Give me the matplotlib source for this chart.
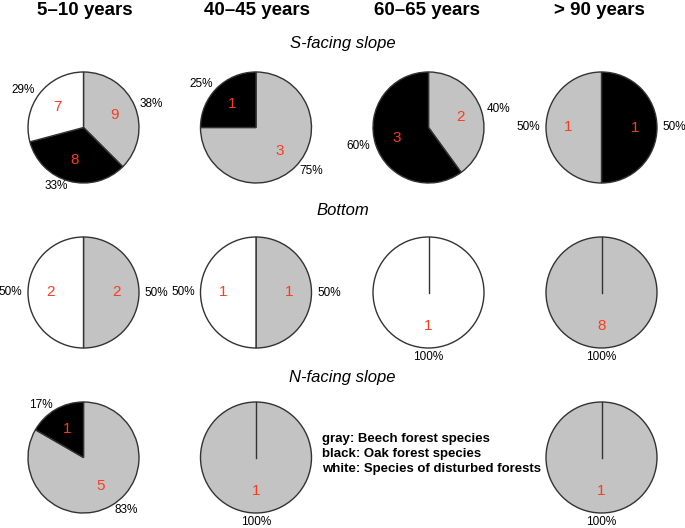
"""
Pie charts of species groups by forest age and slope position.
Saves out.png (685x528 px).
"""

import matplotlib
matplotlib.use("Agg")
import matplotlib.pyplot as plt

plt.rcParams["font.family"] = ["Liberation Sans", "DejaVu Sans"]

# ---- data ----
edades = ["5–10 years", "40–45 years", "60–65 years", "> 90 years"]
posiciones = ["S-facing slope", "Bottom", "N-facing slope"]
grupos = ["gray", "black", "white"]

# counts per age class: [gray (beech), black (oak), white (disturbed)]
s_facing = [[9, 8, 7], [3, 1, 0], [2, 3, 0], [1, 1, 0]]
bottom = [[2, 0, 2], [1, 0, 1], [0, 0, 1], [8, 0, 0]]
n_facing = [[5, 1, 0], [1, 0, 0], None, [1, 0, 0]]

# drawing order clockwise from 12 o'clock (index into grupos)
orden_normal = [0, 1, 2]
orden_especial = {(0, 3): [1, 0, 2]}

leyenda = ["gray: Beech forest species",
           "black: Oak forest species",
           "white: Species of disturbed forests"]

# ---- style ----
COLORES = {"gray": "#C3C3C3", "black": "#000000", "white": "#FFFFFF"}
COLOR_BORDE = "#333333"
COLOR_CONTEO = "#FA3C1E"

W, H = 685, 528
R = 55.5
K = 1.6
centros_x = [83.5, 256, 428.5, 601.5]
centros_y = [127.5, 292.5, 457.5]
centros_encabezado = [85, 257.5, 426.5, 599]
base_titulo_fila = [48, 215, 382]

figura = plt.figure(figsize=(W / 100, H / 100), dpi=100)


def px(x, y):
    return x / W, 1 - y / H


def dibujar_pie(fila, col, conteos):
    orden = orden_especial.get((fila, col), orden_normal)
    valores = [conteos[i] for i in orden if conteos[i] > 0]
    colores = [COLORES[grupos[i]] for i in orden if conteos[i] > 0]
    total = sum(valores)
    etiquetas = ["%d%%" % round(100 * v / total) for v in valores]

    cx, cy = centros_x[col], centros_y[fila]
    lado = 2 * R * K
    ejes = figura.add_axes([(cx - R * K) / W, 1 - (cy + R * K) / H, lado / W, lado / H])

    wedges, textos, autotextos = ejes.pie(
        valores, colors=colores, labels=etiquetas, startangle=90, counterclock=False,
        labeldistance=1.1, pctdistance=0.6,
        autopct=lambda p: "%d" % round(p * total / 100),
        wedgeprops={"edgecolor": COLOR_BORDE, "linewidth": 1.0},
        textprops={"fontsize": 8.5})
    for t in autotextos:
        t.set_color(COLOR_CONTEO)
        t.set_fontsize(11)
    for t in textos:
        x, y = t.get_position()
        if abs(x) < 1e-6:
            # single-wedge label sits centred below the pie
            t.set_horizontalalignment("center")
            t.set_position((0, -1.16))
    if len(valores) == 1:
        # start line of the single wedge
        ejes.plot([0, 0], [0, 1], color=COLOR_BORDE, linewidth=1.0)
    ejes.set_xlim(-K, K)
    ejes.set_ylim(-K, K)
    ejes.set_aspect("equal")
    ejes.axis("off")


for fila, datos in enumerate([s_facing, bottom, n_facing]):
    for col, conteos in enumerate(datos):
        if conteos is not None:
            dibujar_pie(fila, col, conteos)

# column headers
for col, edad in enumerate(edades):
    x, y = px(centros_encabezado[col], 15)
    figura.text(x, y, edad, ha="center", va="baseline", fontsize=13.5, fontweight="bold")

# row titles
for fila, nombre in enumerate(posiciones):
    x, y = px(W / 2, base_titulo_fila[fila])
    figura.text(x, y, nombre, ha="center", va="baseline", fontsize=12, style="italic")

# legend text
for i, linea in enumerate(leyenda):
    x, y = px(322, 442 + 15 * i)
    figura.text(x, y, linea, ha="left", va="baseline", fontsize=9.5, fontweight="bold")

figura.savefig("out.png", dpi=100)
plt.close(figura)
